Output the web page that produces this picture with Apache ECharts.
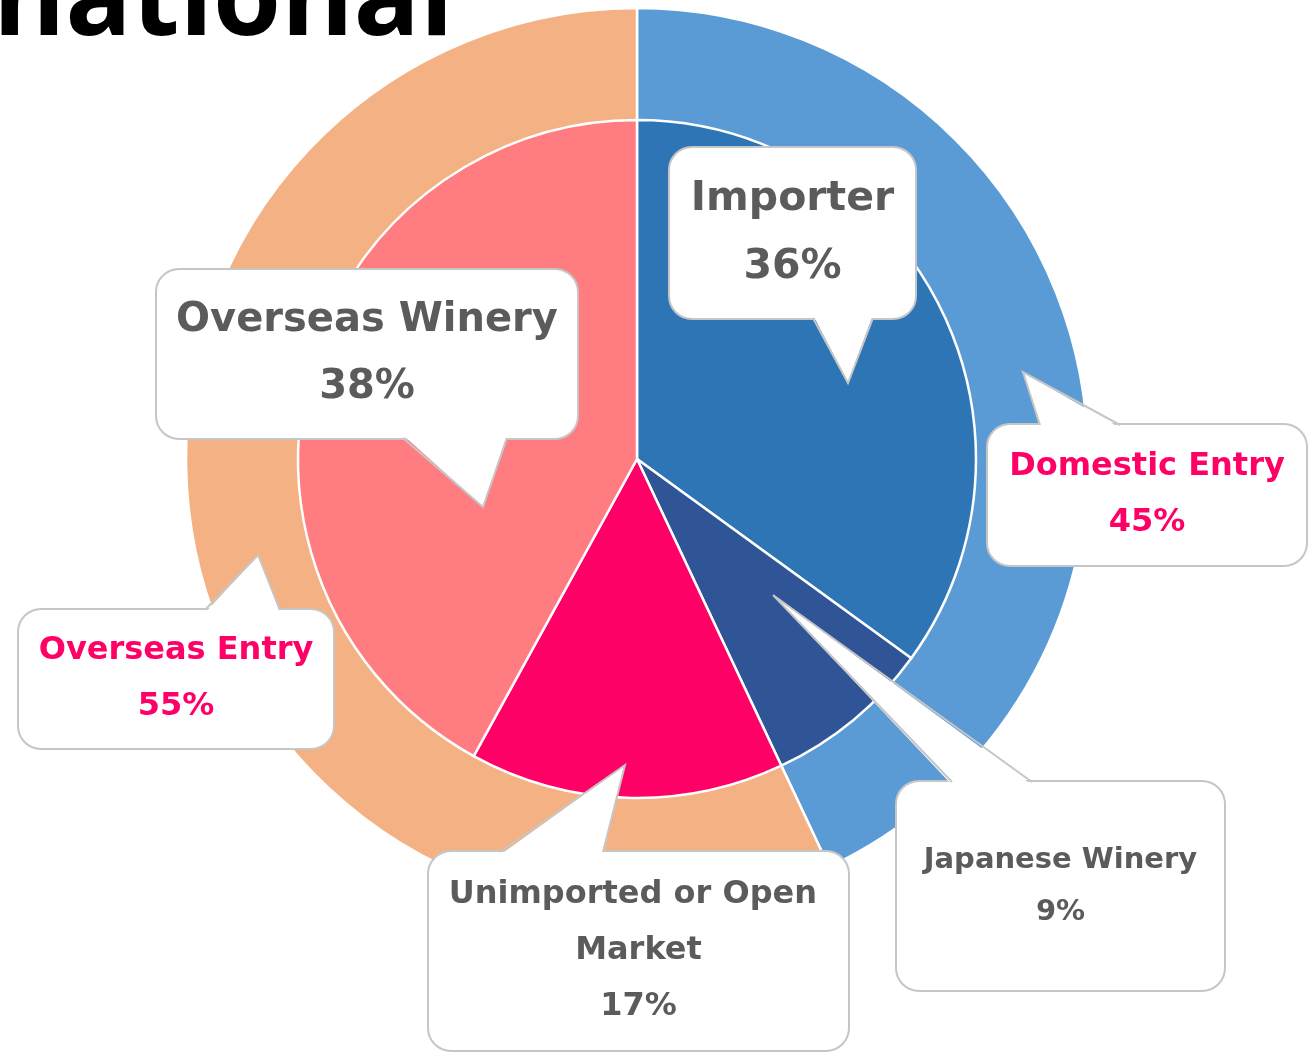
<!DOCTYPE html>
<html>
<head>
<meta charset="utf-8">
<title>Entry routes</title>
<script src="https://cdn.jsdelivr.net/npm/echarts@6/dist/echarts.min.js"></script>
<style>
  html, body { margin: 0; padding: 0; background: #fff; }
  #main { width: 1309px; height: 1052px; }
</style>
</head>
<body>
<div id="main"></div>
<script>
// outer ring: entry route
const outerNames = ['Domestic Entry', 'Overseas Entry'];
const outerValues = [43, 57];
const outerPctText = ['45%', '55%'];
const outerColors = ['#5B9BD5', '#F4B183'];

// inner pie: partner type
const innerNames = ['Importer', 'Japanese Winery', 'Unimported or Open Market', 'Overseas Winery'];
const innerValues = [35, 8, 15, 42];
const innerPctText = ['36%', '9%', '17%', '38%'];
const innerColors = ['#2E75B6', '#2F5597', '#FF0066', '#FF7C80'];

// callout boxes [x, y, w, h] and tails [base, tip, base]
const outerCallouts = [
  { box: [988, 425, 318, 140], lines: 2, fontSize: 32, lineHeight: 56, tail: [[1040, 425], [1023, 372], [1120, 425]] },
  { box: [19, 610, 314, 138], lines: 2, fontSize: 32, lineHeight: 56, tail: [[205, 610], [258, 555], [280, 610]] }
];
const innerCallouts = [
  { box: [670, 148, 245, 170], lines: 2, fontSize: 41, lineHeight: 68, tail: [[813, 318], [848, 383], [873, 318]] },
  { box: [897, 782, 327, 208], lines: 2, fontSize: 29, lineHeight: 52, tail: [[952, 782], [773, 595], [1032, 782]] },
  { box: [429, 852, 419, 198], lines: 3, fontSize: 32, lineHeight: 56, wrap: true, tail: [[500, 852], [625, 765], [603, 852]] },
  { box: [157, 270, 420, 168], lines: 2, fontSize: 40, lineHeight: 67, tail: [[403, 438], [483, 507], [507, 438]] }
];

const center = [637, 459];
const borderGray = '#c6c6c6';
// text sits a little below the middle of each box
const textDrop = 6;

const buildData = (names, values, colors, texts, callouts, textColor) => {
  return names.map((name, i) => {
    const c = callouts[i];
    const padX = 8;
    const padY = (c.box[3] - c.lines * c.lineHeight) / 2;
    return {
      name: name,
      value: values[i],
      itemStyle: { color: colors[i] },
      label: {
        formatter: name + '\n' + texts[i],
        fontSize: c.fontSize,
        lineHeight: c.lineHeight,
        color: textColor,
        width: c.box[2] - padX * 2,
        overflow: c.wrap ? 'break' : 'none',
        padding: [padY + textDrop, padX, padY - textDrop, padX]
      }
    };
  });
};

const labelBase = {
  show: true,
  position: 'inside',
  fontFamily: 'DejaVu Sans',
  fontWeight: 'bold',
  align: 'center',
  backgroundColor: '#fff',
  borderColor: borderGray,
  borderWidth: 2,
  borderRadius: 22
};

const placeLabel = (callouts) => (params) => {
  const b = callouts[params.dataIndex].box;
  return { x: b[0] + b[2] / 2, y: b[1] + b[3] / 2, align: 'center', verticalAlign: 'middle' };
};

// tails of the speech bubbles
const tails = [];
outerCallouts.concat(innerCallouts).forEach(c => {
  const [a, tip, b] = c.tail;
  const shift = tip[1] < a[1] ? 3 : -3;
  tails.push({
    type: 'polygon', z: 100,
    shape: { points: [[a[0], a[1] + shift], tip, [b[0], b[1] + shift]] },
    style: { fill: '#fff' }
  });
  tails.push({
    type: 'polyline', z: 101,
    shape: { points: c.tail },
    style: { stroke: borderGray, lineWidth: 2, fill: null }
  });
});

const myChart = echarts.init(document.getElementById('main'));

const option = {
  animation: false,
  title: {
    text: 'national',
    left: -7,
    top: -51,
    padding: 0,
    textStyle: { fontFamily: 'Open Sans', fontWeight: 'bold', fontSize: 110, color: '#000' }
  },
  graphic: tails,
  series: [
    {
      name: 'entry',
      type: 'pie',
      z: 2,
      center: center,
      radius: [330, 451],
      startAngle: 90,
      avoidLabelOverlap: false,
      itemStyle: { borderColor: '#fff', borderWidth: 2.5 },
      label: Object.assign({}, labelBase),
      labelLine: { show: false },
      labelLayout: placeLabel(outerCallouts),
      emphasis: { disabled: true },
      data: buildData(outerNames, outerValues, outerColors, outerPctText, outerCallouts, '#FF0066')
    },
    {
      name: 'partner',
      type: 'pie',
      z: 3,
      center: center,
      radius: [0, 339],
      startAngle: 90,
      avoidLabelOverlap: false,
      itemStyle: { borderColor: '#fff', borderWidth: 2.5 },
      label: Object.assign({}, labelBase),
      labelLine: { show: false },
      labelLayout: placeLabel(innerCallouts),
      emphasis: { disabled: true },
      data: buildData(innerNames, innerValues, innerColors, innerPctText, innerCallouts, '#5b5b5b')
    }
  ]
};

option && myChart.setOption(option);
</script>
</body>
</html>
